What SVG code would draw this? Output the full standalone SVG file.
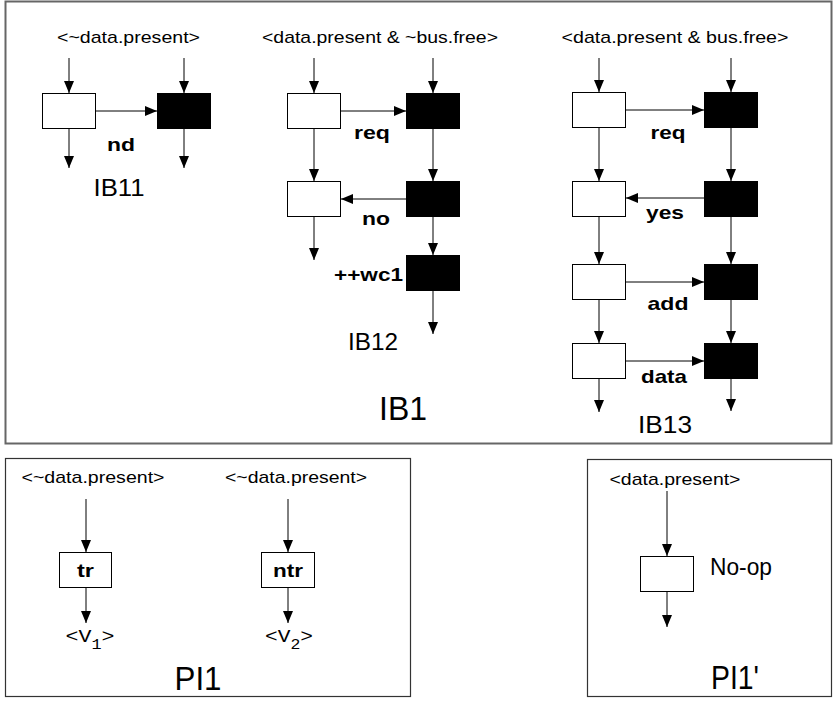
<svg xmlns="http://www.w3.org/2000/svg" width="833" height="707" viewBox="0 0 833 707">
<defs>
<marker id="ah" markerUnits="userSpaceOnUse" markerWidth="12" markerHeight="10" refX="12" refY="5" orient="auto">
<path d="M0,0 L12,5 L0,10 z" fill="#000"/>
</marker>
<style>
.frame{fill:#fff;stroke:#666;stroke-width:2}
.pframe{fill:none;stroke:#333;stroke-width:1.2}
.wb{fill:#fff;stroke:#000;stroke-width:1}
.bb{fill:#000;stroke:#000;stroke-width:1}
.c line{stroke:#000;stroke-width:1;marker-end:url(#ah)}
.t{font-family:"Liberation Sans",Arial,sans-serif;font-size:17px;fill:#000}
.b{font-family:"Liberation Sans",Arial,sans-serif;font-size:19px;font-weight:bold;fill:#000}
.m{font-family:"Liberation Sans",Arial,sans-serif;font-size:23px;fill:#000}
.L{font-family:"Liberation Sans",Arial,sans-serif;font-size:33px;fill:#000}
.mono{font-family:"Liberation Mono","Courier New",monospace;font-size:18px;fill:#000}
</style>
</defs>
<rect width="833" height="707" fill="#fff"/>

<g id="IB1">
<rect class="frame" x="5.5" y="1.5" width="826" height="442"/>
<text class="L" x="403" y="420" text-anchor="middle" textLength="48" lengthAdjust="spacingAndGlyphs">IB1</text>
</g>
<g id="PI1">
<rect class="pframe" x="5.5" y="458.5" width="405" height="238"/>
<text class="L" x="198" y="690" text-anchor="middle" textLength="47" lengthAdjust="spacingAndGlyphs">PI1</text>
</g>
<g id="PI1p">
<rect class="pframe" x="587.5" y="459.5" width="244" height="237"/>
<text class="L" x="735" y="689" text-anchor="middle" textLength="48" lengthAdjust="spacingAndGlyphs">PI1'</text>
</g>

<g id="IB11">
<text class="t" x="128.5" y="43" text-anchor="middle" textLength="143" lengthAdjust="spacingAndGlyphs">&lt;~data.present&gt;</text>
<rect class="wb" x="42.5" y="93.5" width="53" height="35"/>
<rect class="bb" x="157.5" y="93.5" width="53" height="35"/>
<text class="b" x="121" y="151" text-anchor="middle" textLength="28" lengthAdjust="spacingAndGlyphs">nd</text>
<text class="m" x="119" y="196" text-anchor="middle" textLength="51" lengthAdjust="spacingAndGlyphs">IB11</text>
</g>

<g id="IB12">
<text class="t" x="380" y="43" text-anchor="middle" textLength="236" lengthAdjust="spacingAndGlyphs">&lt;data.present &amp; ~bus.free&gt;</text>
<rect class="wb" x="287.5" y="93.5" width="53" height="35"/>
<rect class="bb" x="406.5" y="93.5" width="53" height="35"/>
<rect class="wb" x="287.5" y="181.5" width="53" height="35"/>
<rect class="bb" x="406.5" y="181.5" width="53" height="35"/>
<rect class="bb" x="406.5" y="255.5" width="53" height="35"/>
<text class="b" x="372" y="139" text-anchor="middle" textLength="36" lengthAdjust="spacingAndGlyphs">req</text>
<text class="b" x="376" y="225" text-anchor="middle" textLength="28" lengthAdjust="spacingAndGlyphs">no</text>
<text class="b" x="403" y="281" text-anchor="end" textLength="69" lengthAdjust="spacingAndGlyphs">++wc1</text>
<text class="m" x="373" y="350" text-anchor="middle" textLength="50" lengthAdjust="spacingAndGlyphs">IB12</text>
</g>

<g id="IB13">
<text class="t" x="675" y="43" text-anchor="middle" textLength="227" lengthAdjust="spacingAndGlyphs">&lt;data.present &amp; bus.free&gt;</text>
<rect class="wb" x="572.5" y="92.5" width="53" height="35"/>
<rect class="bb" x="704.5" y="92.5" width="53" height="35"/>
<rect class="wb" x="572.5" y="181.5" width="53" height="35"/>
<rect class="bb" x="704.5" y="181.5" width="53" height="35"/>
<rect class="wb" x="572.5" y="264.5" width="53" height="35"/>
<rect class="bb" x="704.5" y="264.5" width="53" height="35"/>
<rect class="wb" x="572.5" y="343.5" width="53" height="35"/>
<rect class="bb" x="704.5" y="343.5" width="53" height="35"/>
<text class="b" x="668" y="139" text-anchor="middle" textLength="35" lengthAdjust="spacingAndGlyphs">req</text>
<text class="b" x="665" y="219" text-anchor="middle" textLength="38" lengthAdjust="spacingAndGlyphs">yes</text>
<text class="b" x="668" y="310" text-anchor="middle" textLength="41" lengthAdjust="spacingAndGlyphs">add</text>
<text class="b" x="664" y="383" text-anchor="middle" textLength="46" lengthAdjust="spacingAndGlyphs">data</text>
<text class="m" x="665" y="433" text-anchor="middle" textLength="54" lengthAdjust="spacingAndGlyphs">IB13</text>
</g>

<g id="tr">
<text class="t" x="93" y="483" text-anchor="middle" textLength="143" lengthAdjust="spacingAndGlyphs">&lt;~data.present&gt;</text>
<rect class="wb" x="59.5" y="552.5" width="52" height="35"/>
<text class="b" x="85.5" y="577" text-anchor="middle" textLength="17" lengthAdjust="spacingAndGlyphs">tr</text>
<text class="mono" x="90" y="642" text-anchor="middle" textLength="49" lengthAdjust="spacingAndGlyphs">&lt;V<tspan font-size="14" dy="7">1</tspan><tspan dy="-7">&gt;</tspan></text>
</g>
<g id="ntr">
<text class="t" x="296" y="483" text-anchor="middle" textLength="142" lengthAdjust="spacingAndGlyphs">&lt;~data.present&gt;</text>
<rect class="wb" x="261.5" y="552.5" width="53" height="35"/>
<text class="b" x="288" y="577" text-anchor="middle" textLength="30" lengthAdjust="spacingAndGlyphs">ntr</text>
<text class="mono" x="289" y="642" text-anchor="middle" textLength="48" lengthAdjust="spacingAndGlyphs">&lt;V<tspan font-size="14" dy="7">2</tspan><tspan dy="-7">&gt;</tspan></text>
</g>
<g id="noop">
<text class="t" x="675" y="485" text-anchor="middle" textLength="131" lengthAdjust="spacingAndGlyphs">&lt;data.present&gt;</text>
<rect class="wb" x="640.5" y="556.5" width="53" height="35"/>
<text class="m" x="710" y="575" textLength="62" lengthAdjust="spacingAndGlyphs">No-op</text>
</g>

<g id="connectors" class="c">
<line x1="69" y1="58" x2="69" y2="93"/>
<line x1="184" y1="58" x2="184" y2="93"/>
<line x1="96" y1="111" x2="157" y2="111"/>
<line x1="69" y1="129" x2="69" y2="168"/>
<line x1="184" y1="129" x2="184" y2="168"/>

<line x1="314" y1="58" x2="314" y2="93"/>
<line x1="433" y1="58" x2="433" y2="93"/>
<line x1="341" y1="111" x2="406" y2="111"/>
<line x1="314" y1="129" x2="314" y2="181"/>
<line x1="433" y1="129" x2="433" y2="181"/>
<line x1="406" y1="199" x2="341" y2="199"/>
<line x1="314" y1="217" x2="314" y2="260"/>
<line x1="433" y1="217" x2="433" y2="255"/>
<line x1="433" y1="291" x2="433" y2="334"/>

<line x1="599" y1="58" x2="599" y2="92"/>
<line x1="731" y1="58" x2="731" y2="92"/>
<line x1="626" y1="110" x2="704" y2="110"/>
<line x1="599" y1="128" x2="599" y2="181"/>
<line x1="731" y1="128" x2="731" y2="181"/>
<line x1="704" y1="198" x2="626" y2="198"/>
<line x1="599" y1="217" x2="599" y2="264"/>
<line x1="731" y1="217" x2="731" y2="264"/>
<line x1="626" y1="282" x2="704" y2="282"/>
<line x1="599" y1="300" x2="599" y2="343"/>
<line x1="731" y1="300" x2="731" y2="343"/>
<line x1="626" y1="361" x2="704" y2="361"/>
<line x1="599" y1="379" x2="599" y2="412"/>
<line x1="731" y1="379" x2="731" y2="411"/>

<line x1="86" y1="499" x2="86" y2="552"/>
<line x1="86" y1="588" x2="86" y2="623"/>
<line x1="288" y1="499" x2="288" y2="552"/>
<line x1="288" y1="588" x2="288" y2="623"/>

<line x1="667" y1="491" x2="667" y2="556"/>
<line x1="667" y1="592" x2="667" y2="627"/>
</g>
</svg>
